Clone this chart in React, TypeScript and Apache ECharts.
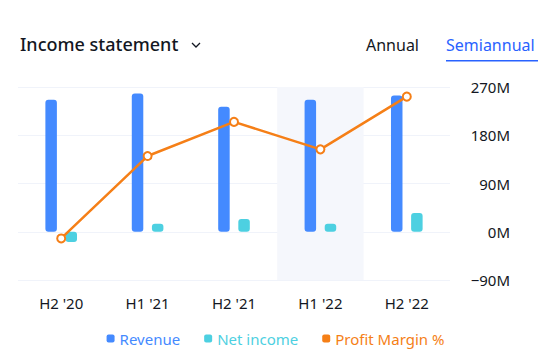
import React, { useEffect, useRef } from "react";
import * as echarts from "echarts";

const categories = ["H2 '20", "H1 '21", "H2 '21", "H1 '22", "H2 '22"];
const revenue = [246, 258, 233, 246, 254]; // millions
const netIncome = [-19, 15, 24, 15, 35]; // millions
const profitMargin = [-5.4, 5.7, 10.3, 6.6, 13.7]; // %
const highlight = [0, 0, 0, 1, 0];
const yTicks = [-90, 0, 90, 180, 270];

const FONT = "'Noto Sans', sans-serif";
const TEXT = "#131722";
const BLUE = "#448aff";
const CYAN = "#4dd0e1";
const ORANGE = "#f57f17";

export default function App() {
  const ref = useRef<HTMLDivElement>(null);
  useEffect(() => {
    if (!ref.current) return;
    const chart = echarts.init(ref.current, undefined, { renderer: "svg" });
    chart.setOption({
      animation: false,
      textStyle: { fontFamily: FONT },
      title: {
        text: "Income statement",
        left: 15,
        top: 30,
        textStyle: { fontFamily: FONT, fontSize: 18, fontWeight: 500, color: TEXT },
      },
      graphic: [
        {
          type: "polyline",
          shape: { points: [[192, 43], [196, 47], [200, 43]] },
          style: { stroke: TEXT, lineWidth: 1.3, fill: null },
        },
        {
          type: "text",
          x: 366,
          y: 37,
          style: { text: "Annual", font: `16px ${FONT}`, fill: TEXT },
        },
        {
          type: "text",
          x: 446,
          y: 37,
          style: { text: "Semiannual", font: `16px ${FONT}`, fill: "#2962ff" },
        },
        {
          type: "rect",
          shape: { x: 446, y: 60, width: 92, height: 1.5 },
          style: { fill: "#2962ff" },
        },
      ],
      legend: {
        bottom: 9,
        left: "center",
        icon: "roundRect",
        itemWidth: 8,
        itemHeight: 8,
        itemGap: 24,
        data: [
          { name: "Revenue", icon: "roundRect", itemStyle: { color: BLUE }, textStyle: { color: BLUE } },
          { name: "Net income", icon: "roundRect", itemStyle: { color: CYAN }, textStyle: { color: CYAN } },
          {
            name: "Profit Margin %",
            icon: "roundRect",
            itemStyle: { color: ORANGE, borderWidth: 0 },
            lineStyle: { width: 0 },
            textStyle: { color: ORANGE },
          },
        ],
        textStyle: { fontFamily: FONT, fontSize: 15 },
      },
      grid: { left: 18, right: 101, top: 87, bottom: 80 },
      xAxis: [
        {
          type: "category",
          data: categories,
          axisLine: { show: false },
          axisTick: { show: false },
          axisLabel: { color: TEXT, fontSize: 15, margin: 15, fontFamily: FONT },
        },
        {
          type: "category",
          data: categories,
          show: false,
        },
      ],
      yAxis: [
        {
          type: "value",
          position: "right",
          min: yTicks[0],
          max: yTicks[yTicks.length - 1],
          interval: 90,
          axisLine: { show: false },
          axisTick: { show: false },
          splitLine: { lineStyle: { color: "#f0f3fa", width: 1 } },
          axisLabel: {
            color: TEXT,
            fontSize: 15,
            align: "right",
            margin: 60,
            fontFamily: FONT,
            formatter: (v: number) => `${v < 0 ? "\u2212" : ""}${Math.abs(v)}M`,
          },
        },
        { type: "value", min: -11, max: 15, show: false },
        { type: "value", min: 0, max: 1, show: false },
      ],
      series: [
        {
          name: "highlight",
          type: "bar",
          xAxisIndex: 1,
          yAxisIndex: 2,
          data: highlight,
          barWidth: "100%",
          silent: true,
          z: 0,
          itemStyle: { color: "#f5f7fc" },
          legendHoverLink: false,
        },
        {
          name: "Revenue",
          type: "bar",
          data: revenue,
          barWidth: 11.5,
          barGap: "75%",
          itemStyle: { color: BLUE, borderRadius: 3 },
          z: 2,
        },
        {
          name: "Net income",
          type: "bar",
          data: netIncome,
          barWidth: 11.5,
          barGap: "75%",
          itemStyle: { color: CYAN, borderRadius: 3 },
          z: 2,
        },
        {
          name: "Profit Margin %",
          type: "line",
          yAxisIndex: 1,
          data: profitMargin,
          symbol: "circle",
          symbolSize: 8,
          lineStyle: { color: ORANGE, width: 2.5 },
          itemStyle: { color: "#ffffff", borderColor: ORANGE, borderWidth: 2 },
          z: 3,
        },
      ],
    });
    return () => chart.dispose();
  }, []);
  return (
    <div
      ref={ref}
      style={{ position: "absolute", left: 0, top: 0, width: 551, height: 360 }}
    />
  );
}
